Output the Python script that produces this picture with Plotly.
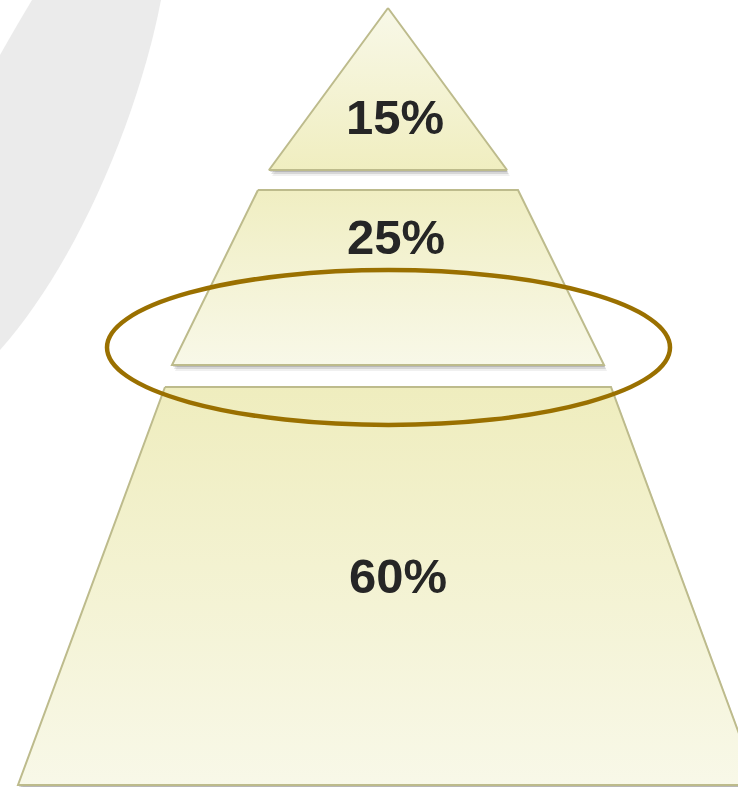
import plotly.graph_objects as go

# ---- data ----
levels = ["Top", "Middle", "Bottom"]
shares = [15, 25, 60]              # percent of each pyramid level
labels = [f"{v}%" for v in shares]

# ---- geometry / style (pixel-like coordinates, y downward) ----
W, H = 738, 787
cx = 388
seg_top = [8, 190, 387]
seg_bottom = [170, 365, 785]
half_top = [0, 130, 223]
half_bottom = [119, 216, 370]
label_y = [122, 242, 581]
label_x = [395, 396, 398]
grad_top = ["#F8F8E8", "#F0EEC2", "#EFEDBE"]
grad_bottom = ["#F0EEC0", "#F8F8E8", "#F8F8E8"]
edge_col = "#BDBB8C"

fig = go.Figure()

# shadows
for i in range(3):
    t, b = seg_top[i], seg_bottom[i]
    ht, hb = half_top[i], half_bottom[i]
    for dx, dy, a in [(3, 6, 0.08), (2, 4, 0.14), (1, 2, 0.2)]:
        xs = [cx - ht + dx, cx + ht + dx, cx + hb + dx, cx - hb + dx, cx - ht + dx]
        ys = [t + dy, t + dy, b + dy, b + dy, t + dy]
        fig.add_trace(go.Scatter(x=xs, y=ys, mode="lines", fill="toself",
                                 fillcolor=f"rgba(60,60,60,{a})",
                                 line=dict(width=0), hoverinfo="skip",
                                 showlegend=False))

# pyramid levels
for i in range(3):
    t, b = seg_top[i], seg_bottom[i]
    ht, hb = half_top[i], half_bottom[i]
    xs = [cx - ht, cx + ht, cx + hb, cx - hb, cx - ht]
    ys = [t, t, b, b, t]
    fig.add_trace(go.Scatter(
        x=xs, y=ys, mode="lines", fill="toself",
        fillgradient=dict(type="vertical",
                          colorscale=[[0, grad_top[i]], [1, grad_bottom[i]]],
                          start=t, stop=b),
        line=dict(color=edge_col, width=2),
        name=levels[i], hoverinfo="skip", showlegend=False))

# labels
fig.add_trace(go.Scatter(
    x=label_x, y=label_y, mode="text", text=labels,
    textfont=dict(family="Liberation Sans, Arial, sans-serif", size=49,
                  color="#262626", weight="bold"),
    hoverinfo="skip", showlegend=False))

shapes = [
    # grey decorative arc band
    dict(type="path", layer="below",
         path="M 32,0 L 161,0 C 140,110 80,260 0,350 L 0,55 Q 14,30 32,0 Z",
         fillcolor="#EBEBEB", line=dict(width=0), xref="x", yref="y"),
    # highlight ellipse
    dict(type="circle", layer="above", x0=107, x1=670, y0=270, y1=425,
         line=dict(color="#9A7000", width=4.5), fillcolor="rgba(0,0,0,0)",
         xref="x", yref="y"),
]

fig.update_layout(
    width=W, height=H,
    margin=dict(l=0, r=0, t=0, b=0),
    paper_bgcolor="white", plot_bgcolor="white",
    xaxis=dict(range=[0, W], visible=False, fixedrange=True),
    yaxis=dict(range=[H, 0], visible=False, fixedrange=True),
    shapes=shapes,
    showlegend=False,
)

fig.write_html("out.html", config={"displayModeBar": False},
               post_script="document.body.style.margin='0';document.body.style.overflow='hidden';")
